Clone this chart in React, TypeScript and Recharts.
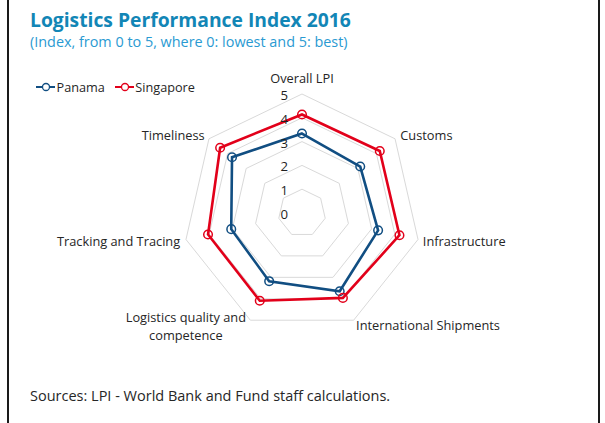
import { RadarChart, Radar, PolarGrid, PolarAngleAxis, PolarRadiusAxis, Legend } from 'recharts'

// LPI 2016 scores
const categories = [
  'Overall LPI',
  'Customs',
  'Infrastructure',
  'International Shipments',
  'Logistics quality and competence',
  'Tracking and Tracing',
  'Timeliness',
]
const panama = [3.34, 3.13, 3.28, 3.65, 3.18, 3.05, 3.76]
const singapore = [4.14, 4.18, 4.2, 3.96, 4.09, 4.05, 4.4]
const radiusDomain = [0, 5]

const FONT = '"Open Sans", sans-serif'
const BLUE = '#114e82'
const RED = '#e2001a'

const data = categories.map((c, i) => ({ cat: c, panama: panama[i], singapore: singapore[i] }))

// nudges for the angle labels (offset from recharts' default tick spot)
const labelNudge: Record<string, { dx: number; dy: number; anchor: string; lines?: string[] }> = {
  'Overall LPI': { dx: 0, dy: -8, anchor: 'middle' },
  'Customs': { dx: -1, dy: 1, anchor: 'start' },
  'Infrastructure': { dx: -3, dy: 0, anchor: 'start' },
  'International Shipments': { dx: -1, dy: -2, anchor: 'start' },
  'Logistics quality and competence': { dx: -61, dy: -10, anchor: 'middle', lines: ['Logistics quality and', 'competence'] },
  'Tracking and Tracing': { dx: 2, dy: 0, anchor: 'end' },
  'Timeliness': { dx: 2, dy: 1, anchor: 'end' },
}

const AngleTick = (p: any) => {
  const v = p.payload.value
  const n = labelNudge[v] || { dx: 0, dy: 0, anchor: p.textAnchor }
  const x = p.x + n.dx
  const y = p.y + n.dy
  if (n.lines) {
    return (
      <text x={x} y={y} textAnchor={n.anchor} dominantBaseline="central" fontFamily={FONT} fontSize={12.8} fill="#262626">
        {n.lines.map((l, i) => (
          <tspan key={i} x={x} y={y + i * 18}>{l}</tspan>
        ))}
      </text>
    )
  }
  return (
    <text x={x} y={y} textAnchor={n.anchor} dominantBaseline="central" fontFamily={FONT} fontSize={12.8} fill="#262626">
      {v}
    </text>
  )
}

const RadiusTick = (p: any) => (
  <text x={p.x - 14} y={p.y + 1} textAnchor="end" dominantBaseline="central" fontFamily={FONT} fontSize={13.2} fill="#1f1f1f">
    {p.payload.value}
  </text>
)

const renderLegend = (props: any) => (
  <div style={{ display: 'flex', alignItems: 'center', fontFamily: FONT, fontSize: 12.7, color: '#262626', lineHeight: '14px' }}>
    {(props.payload || []).map((e: any, i: number) => (
      <div key={i} style={{ display: 'flex', alignItems: 'center', marginRight: 10 }}>
        <svg width={19} height={10}>
          <line x1={0} y1={5} x2={19} y2={5} stroke={e.color} strokeWidth={2} />
          <circle cx={10} cy={5} r={3.5} fill="#fff" stroke={e.color} strokeWidth={1.3} />
        </svg>
        <span style={{ marginLeft: 1.5 }}>{e.value}</span>
      </div>
    ))}
  </div>
)

export default function App() {
  return (
    <div style={{ position: 'absolute', left: 0, top: 0, width: 605, height: 423, background: '#fff', overflow: 'hidden' }}>
      <RadarChart
        width={605}
        height={423}
        data={data}
        cx={302}
        cy={213}
        outerRadius={119}
        margin={{ top: 0, right: 0, bottom: 0, left: 0 }}
      >
        <PolarGrid gridType="polygon" radialLines={false} stroke="#d9d9d9" strokeWidth={1} />
        <PolarAngleAxis dataKey="cat" tick={AngleTick} tickLine={false} axisLine={false} />
        <PolarRadiusAxis angle={90} domain={radiusDomain} tickCount={6} axisLine={false} tick={RadiusTick} />
        <Radar
          name="Panama"
          dataKey="panama"
          stroke={BLUE}
          strokeWidth={2.6}
          fill="none"
          fillOpacity={0}
          dot={{ r: 4.3, fill: '#fff', stroke: BLUE, strokeWidth: 1.5 }}
          isAnimationActive={false}
        />
        <Radar
          name="Singapore"
          dataKey="singapore"
          stroke={RED}
          strokeWidth={2.6}
          fill="none"
          fillOpacity={0}
          dot={{ r: 4.3, fill: '#fff', stroke: RED, strokeWidth: 1.5 }}
          isAnimationActive={false}
        />
        <Legend content={renderLegend} wrapperStyle={{ position: 'absolute', left: 36, top: 80, width: 'auto', bottom: 'auto' }} />
      </RadarChart>
      <svg width={605} height={423} style={{ position: 'absolute', left: 0, top: 0, pointerEvents: 'none' }}>
        <rect x={7} y={0} width={2} height={423} fill="#1a1a1a" />
        <rect x={598} y={0} width={2} height={423} fill="#1a1a1a" />
        <text x={30} y={27} fontFamily={FONT} fontWeight={700} fontSize={19.3} fill="#1286b6">
          Logistics Performance Index 2016
        </text>
        <text x={30} y={47} fontFamily={FONT} fontSize={14.4} fill="#2a9ad2">
          (Index, from 0 to 5, where 0: lowest and 5: best)
        </text>
        <text x={30} y={401} fontFamily={FONT} fontSize={14.5} fill="#262626">
          Sources: LPI - World Bank and Fund staff calculations.
        </text>
      </svg>
    </div>
  )
}
